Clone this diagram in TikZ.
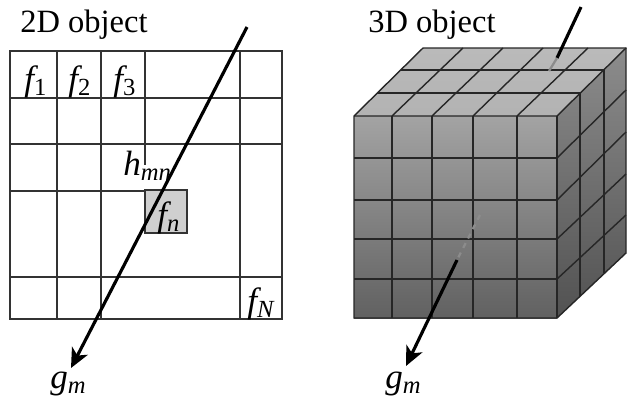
\documentclass[tikz,border=0pt]{standalone}
\usepackage{fontspec}
\setmainfont{Liberation Serif}
\usetikzlibrary{arrows.meta, calc}
\definecolor{ObjGray}{HTML}{CFCFCF}
\DeclareMathSizes{20}{20}{14}{10}
\tikzset{
   gridline/.style={line width=0.75pt, black!80},
   cubeline/.style={line width=0.8pt, black!85},
   rayline/.style={-{Stealth[length=11pt, width=10pt, inset=3pt]}, line width=1.8pt},
   title/.style={anchor=base west, font=\fontsize{18.5}{20}\selectfont, inner sep=0pt},
   cell/.style={anchor=base west, font=\fontsize{20}{22}\selectfont, inner sep=0pt}
}
\newcommand{\fsub}[1]{$\mathit{f}_{#1}$}
\begin{document}
\begin{tikzpicture}[x=0.02cm, y=-0.02cm]
            \useasboundingbox (0,0) rectangle (631,403);
            % Titles
            \node[title] (title2d) at (20,32) {2D object};
            \node[title] (title3d) at (368,32) {3D object};
            % 2D object: highlighted cell
            \fill[ObjGray] (145,190) rectangle (187,233);
            % 2D object: grid
            \draw[gridline] (10,51) rectangle (282,319);
            \foreach \gx in {57,101,240} {
               \draw[gridline] (\gx,51) -- (\gx,319);
            }
            \foreach \gy in {98,144,277} {
               \draw[gridline] (10,\gy) -- (282,\gy);
            }
            \draw[gridline] (10,191) -- (145,191);
            \draw[gridline] (145,51) -- (145,165);
            \draw[gridline] (145,190) rectangle (187,233);
            % 2D object: labels
            \node[cell] (f1) at (24,90) {\fsub{\mathrm{1}}};
            \node[cell] (f2) at (68,90) {\fsub{\mathrm{2}}};
            \node[cell] (f3) at (113,90) {\fsub{\mathrm{3}}};
            \node[cell] (hmn) at (123,175) {$\mathit{h}_{\mathit{mn}}$};
            \node[cell] (fn) at (157,226) {\fsub{\mathit{n}}};
            \node[cell] (fN) at (247,312) {\fsub{\mathit{N}}};
            \node[cell] (gleft) at (50,388) {$\mathit{g}_{\mathit{m}}$};
            % 2D object: ray
            \coordinate (raystart) at (247,27);
            \coordinate (rayend) at (71,368);
            \draw[rayline] (raystart) -- (rayend);
            % 3D object: faces
            \shade[top color=black!27, bottom color=black!30] (354,116) -- (423,48) -- (626,48) -- (557,116) -- cycle;
            \shade[top color=black!36, bottom color=black!62] (354,116) rectangle (557,318);
            \shade[top color=black!45, bottom color=black!68] (557,116) -- (626,48) -- (626,253) -- (557,318) -- cycle;
            % 3D object: front grid
            \foreach \gx in {392,432,473,517} {
               \draw[cubeline] (\gx,116) -- (\gx,318);
            }
            \foreach \gy in {158,200,239,279} {
               \draw[cubeline] (354,\gy) -- (557,\gy);
            }
            % 3D object: top grid
            \foreach \fx/\bx in {392/463,432/503,473/543,517/588} {
               \draw[cubeline] (\fx,116) -- (\bx,48);
            }
            \draw[cubeline] (377,93) -- (580,93);
            \draw[cubeline] (401,70) -- (604,70);
            % 3D object: side grid
            \foreach \fy/\by in {158/90,200/132,239/174,279/215} {
               \draw[cubeline] (557,\fy) -- (626,\by);
            }
            \draw[cubeline] (580,93) -- (580,296);
            \draw[cubeline] (604,70) -- (604,273);
            % 3D object: outline
            \draw[cubeline] (354,116) -- (423,48) -- (626,48) -- (626,253) -- (557,318) -- (354,318) -- cycle;
            \draw[cubeline] (354,116) -- (557,116) -- (626,48);
            \draw[cubeline] (557,116) -- (557,318);
            % 3D object: ray, hidden part faint
            \coordinate (topstart) at (581,7);
            \coordinate (topend) at (557,58);
            \coordinate (topfade) at (549,71);
            \coordinate (midstart) at (480,215);
            \coordinate (midend) at (457,260);
            \coordinate (lowend) at (406,366);
            \draw[line width=1.8pt] (topstart) -- (topend);
            \draw[line width=1.3pt, black!45] (topend) -- (topfade);
            \draw[line width=1.3pt, black!45, dashed] (midstart) -- (midend);
            \draw[rayline] (midend) -- (lowend);
            \node[cell] (gright) at (385,388) {$\mathit{g}_{\mathit{m}}$};
         \end{tikzpicture}
\end{document}
